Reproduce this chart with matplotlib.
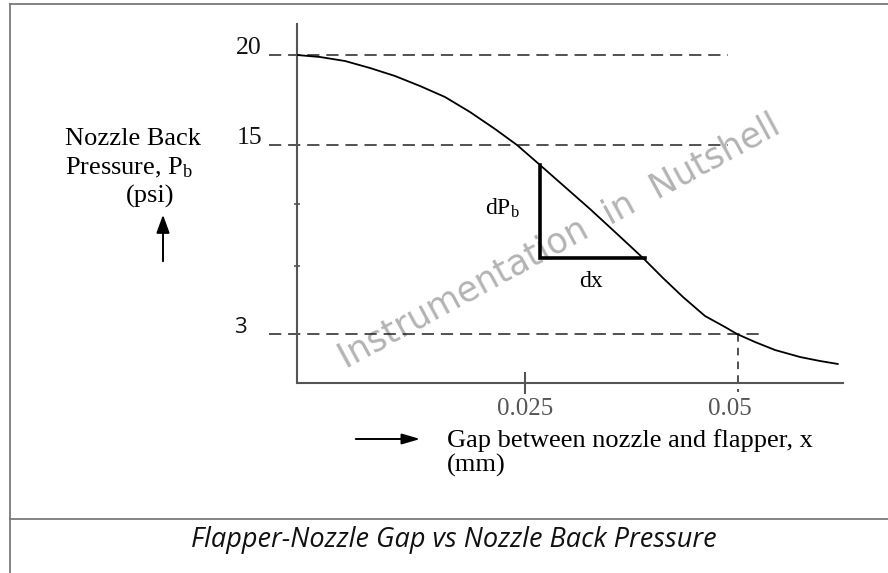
import numpy as np
import matplotlib
matplotlib.use("Agg")
import matplotlib.pyplot as plt
from matplotlib.lines import Line2D
from matplotlib.patches import FancyArrowPatch

plt.rcParams['font.family'] = ['Liberation Serif', 'DejaVu Serif']
plt.rcParams['mathtext.fontset'] = 'custom'
plt.rcParams['mathtext.rm'] = 'Liberation Serif'
plt.rcParams['mathtext.it'] = 'Liberation Serif:italic'

# schematic units: x = distance right of the P axis, y = height above the x axis
curve_x = [0, 23, 48, 73, 98, 123, 148, 173, 198, 220, 243, 268, 293, 318,
           346, 366, 386, 408, 428, 440, 458, 478, 503, 523, 541]
curve_y = [328, 326, 322, 315, 307, 297, 286, 271, 254, 238, 218, 196, 174, 151,
           125, 105, 86, 67, 56, 49, 41, 33, 26, 22, 19]

level_y = [328, 238, 49]            # 20, 15, 3 psi guide lines
level_labels = ['20', '15', '3']
level_end = [431, 431, 463]
minor_y = [179, 117]

gap_x = [228, 441]                  # 0.025, 0.05 mm
gap_labels = ['0.025', '0.05']

tri_x = [243, 243, 348]             # dPb / dx construction
tri_y = [218, 125, 125]

W, H = 888, 573
fig = plt.figure(figsize=(W / 100, H / 100), dpi=100)
fig.patch.set_facecolor('white')

def fx(px):
    return px / W

def fy(py):
    return 1 - py / H

ax = fig.add_axes([fx(297), fy(383), 546 / W, 359 / H])
ax.set_xlim(0, 546)
ax.set_ylim(0, 359)
ax.patch.set_alpha(0)
for s in ['top', 'right']:
    ax.spines[s].set_visible(False)
for s in ['left', 'bottom']:
    ax.spines[s].set_color('#555555')
    ax.spines[s].set_linewidth(1.5)

ax.plot(curve_x, curve_y, color='black', lw=1.3, solid_capstyle='round', zorder=3)
ax.plot(tri_x, tri_y, color='black', lw=2.6, solid_joinstyle='miter', zorder=3)

for y, x1 in zip(level_y, level_end):
    ax.plot([-28, x1], [y, y], color='#222222', lw=1.1, dashes=(8, 4.5),
            clip_on=False, zorder=2)
ax.plot([gap_x[1], gap_x[1]], [level_y[2], -9], color='#222222', lw=1.1,
        dashes=(5, 4), clip_on=False, zorder=2)

# y axis labels
ax.set_yticks([])
ax.set_yticks(minor_y, minor=True)
ax.tick_params(axis='y', which='minor', length=5, direction='inout',
               color='#555555', width=1.2)
lab_x = [-35, -35, -50]
for y, lab, lx in zip(level_y, level_labels, lab_x):
    fam = ['Open Sans', 'DejaVu Sans'] if lab == '3' else ['Liberation Serif']
    sz = 16 if lab == '3' else 18.5
    ax.text(lx, y + 1, lab, ha='right', va='baseline', fontsize=sz,
            family=fam, color='#111111', clip_on=False)

# x axis ticks
ax.set_xticks([gap_x[0]])
ax.set_xticklabels([])
ax.tick_params(axis='x', length=16, direction='inout', color='#555555', width=1.5)
lab_dx = [0, -8]
for x, lab, dx in zip(gap_x, gap_labels, lab_dx):
    ax.text(x + dx, -32, lab, ha='center', va='baseline', fontsize=18,
            color='#555555', clip_on=False)

# construction labels
ax.text(223, 168, r'dP$_{\mathrm{b}}$', ha='right', va='baseline', fontsize=17)
ax.text(294, 96, 'dx', ha='center', va='baseline', fontsize=17)

# watermark
ax.text(262, 142, 'Instrumentation  in  Nutshell', rotation=28.5, ha='center',
        va='center', fontsize=25, family=['DejaVu Sans'], color='#a6a6a6',
        alpha=0.85, rotation_mode='anchor', zorder=1)

# y label block
fig.text(fx(65), fy(145), 'Nozzle Back', fontsize=19, ha='left', va='baseline')
fig.text(fx(65), fy(174), r'Pressure, P$_{\mathrm{b}}$', fontsize=19,
         ha='left', va='baseline')
fig.text(fx(150), fy(203), '(psi)', fontsize=19, ha='center', va='baseline')
fig.add_artist(FancyArrowPatch(
    (fx(163), fy(264)), (fx(163), fy(212)), transform=fig.transFigure,
    arrowstyle='-|>,head_length=11,head_width=4', color='black', lw=1.4))

# x label block
fig.add_artist(FancyArrowPatch(
    (fx(353), fy(439)), (fx(423), fy(439)), transform=fig.transFigure,
    arrowstyle='-|>,head_length=11,head_width=3.2', color='black', lw=1.4))
fig.text(fx(447), fy(447), 'Gap between nozzle and flapper, x', fontsize=19,
         ha='left', va='baseline')
fig.text(fx(447), fy(472), '(mm)', fontsize=19, ha='left', va='baseline')

# frame and caption
frame = dict(color='#7a7a7a', lw=1.3, transform=fig.transFigure)
fig.add_artist(Line2D([fx(10), 1], [fy(4), fy(4)], **frame))
fig.add_artist(Line2D([fx(10), fx(10)], [fy(4), 0], **frame))
fig.add_artist(Line2D([fx(10), 1], [fy(519), fy(519)], **frame))
fig.text(fx(454), fy(547), 'Flapper-Nozzle Gap vs Nozzle Back Pressure',
         fontsize=19.5, style='italic', family=['Open Sans', 'DejaVu Sans'],
         ha='center', va='baseline', color='#111111')

fig.savefig('out.png', dpi=100)
